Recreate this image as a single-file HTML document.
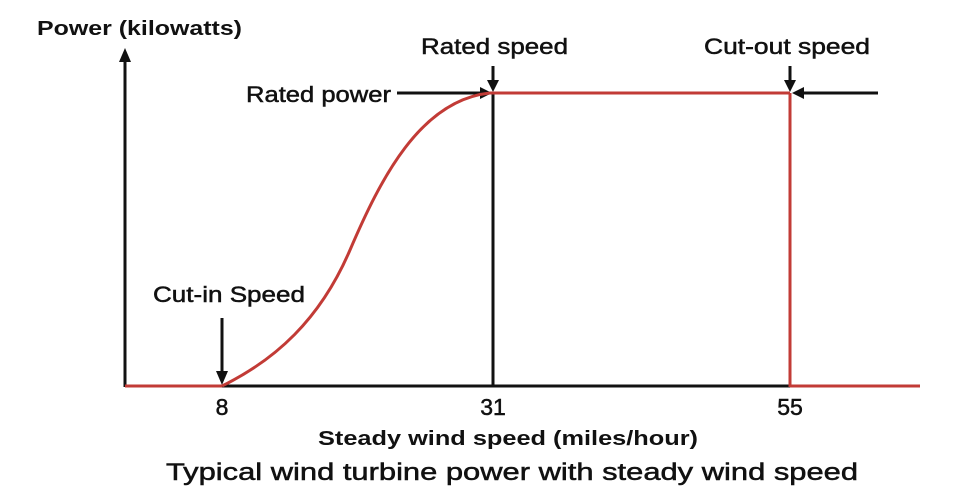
<!DOCTYPE html>
<html><head><meta charset="utf-8"><style>
html,body{margin:0;padding:0;background:#fff;}
svg{display:block;}
text{font-family:"Liberation Sans",sans-serif;fill:#111;}
.m{stroke:#111;stroke-width:0.5;}
</style></head><body>
<svg width="960" height="503" viewBox="0 0 960 503" xmlns="http://www.w3.org/2000/svg">
<g stroke="#111" stroke-width="3" fill="none">
<line x1="125" y1="387" x2="125" y2="58"/>
<line x1="222" y1="386" x2="790" y2="386"/>
<line x1="493" y1="93" x2="493" y2="386"/>
<line x1="397" y1="93" x2="482" y2="93"/>
<line x1="493" y1="66" x2="493" y2="82"/>
<line x1="790" y1="66" x2="790" y2="82"/>
<line x1="878" y1="93" x2="802" y2="93"/>
<line x1="222" y1="318" x2="222" y2="372"/>
</g>
<g fill="#111">
<polygon points="125,48 119,62 131,62"/>
<polygon points="492,93 480,87 480,99"/>
<polygon points="493,92 487,80 499,80"/>
<polygon points="790,92 784,80 796,80"/>
<polygon points="792,93 804,87 804,99"/>
<polygon points="222,385 216,371 228,371"/>
</g>
<g stroke="#c23b36" stroke-width="3" fill="none">
<line x1="125" y1="386" x2="222" y2="386"/>
<path d="M222,386 C275,360 320,320 350,250 C380,180 420,100 490,93"/>
<line x1="490" y1="93" x2="790" y2="93"/>
<line x1="790" y1="93" x2="790" y2="387"/>
<line x1="790" y1="386" x2="920" y2="386"/>
</g>
<text x="37" y="35" font-size="20" font-weight="bold" textLength="205" lengthAdjust="spacingAndGlyphs">Power (kilowatts)</text>
<text class="m" x="421" y="54" font-size="22" textLength="147" lengthAdjust="spacingAndGlyphs">Rated speed</text>
<text class="m" x="246" y="102" font-size="22" textLength="145" lengthAdjust="spacingAndGlyphs">Rated power</text>
<text class="m" x="704" y="54" font-size="22" textLength="166" lengthAdjust="spacingAndGlyphs">Cut-out speed</text>
<text class="m" x="153" y="302" font-size="22" textLength="152" lengthAdjust="spacingAndGlyphs">Cut-in Speed</text>
<text class="m" x="222" y="415" font-size="23" text-anchor="middle">8</text>
<text class="m" x="493" y="415" font-size="23" text-anchor="middle">31</text>
<text class="m" x="790" y="415" font-size="23" text-anchor="middle">55</text>
<text x="318" y="445" font-size="20" font-weight="bold" textLength="380" lengthAdjust="spacingAndGlyphs">Steady wind speed (miles/hour)</text>
<text class="m" x="166" y="480" font-size="24" textLength="692" lengthAdjust="spacingAndGlyphs">Typical wind turbine power with steady wind speed</text>
</svg>
</body></html>
